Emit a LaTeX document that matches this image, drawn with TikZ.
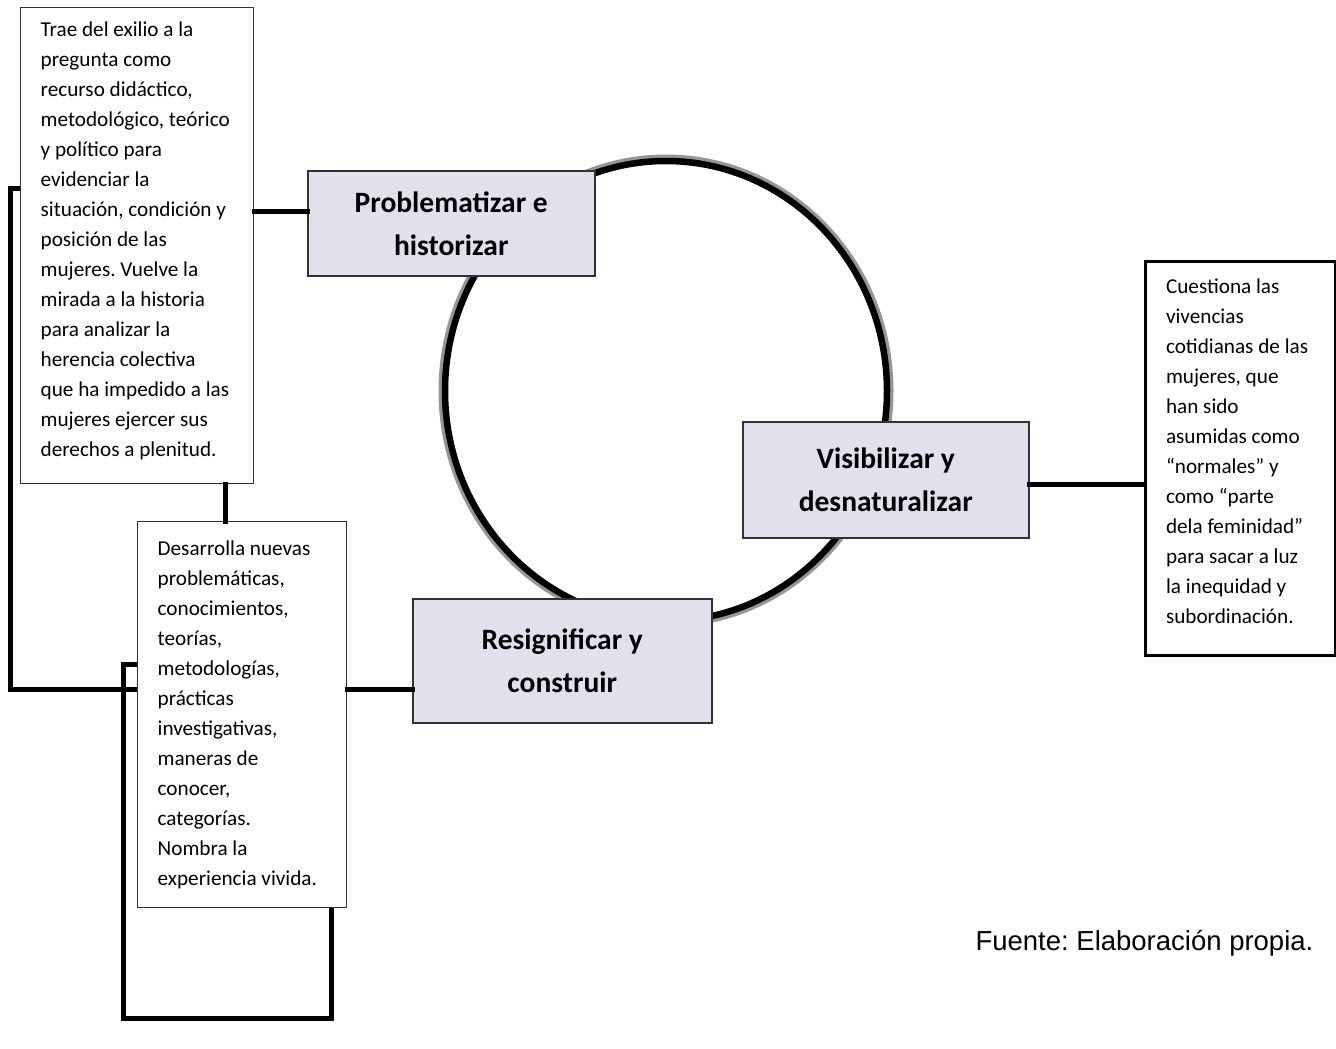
\documentclass[tikz,border=0pt]{standalone}
\usepackage{fontspec}
\setmainfont{Carlito}
\newfontfamily\fuentefont{Liberation Sans}
\usepackage{tikz}
\usetikzlibrary{positioning}
\definecolor{StageLila}{RGB}{228,223,236}
\definecolor{RingGray}{RGB}{150,150,150}
\definecolor{EdgeGray}{RGB}{50,50,50}
\tikzset{
  stage/.style={draw=EdgeGray, line width=1.5, fill=StageLila, anchor=north west,
    inner sep=0pt, align=center, font=\fontsize{29.5}{43}\selectfont\bfseries},
  note/.style={draw=EdgeGray, line width=1.3, fill=white, anchor=north west,
    inner xsep=20pt, inner ysep=0pt, font=\fontsize{21.2}{30}\selectfont},
  link/.style={line width=5, line cap=rect},
}
\frenchspacing

\begin{document}
\begin{tikzpicture}[x=1pt, y=-1pt]
        \useasboundingbox (0,0) rectangle (1336,1049);
        % Ring behind the three stages
        \draw[RingGray, line width=4] (666,391) ellipse [x radius=225.5, y radius=234.5];
        \draw[black, line width=6.5] (666,391) ellipse [x radius=221, y radius=230];
        % Text boxes
        \node[note] (trae) at (20,7) {\parbox[t][476pt][t]{193pt}{\vspace*{8pt}\strut
              Trae del exilio a la\\pregunta como\\recurso didáctico,\\metodológico, teórico\\
              y político para\\evidenciar la\\situación, condición y\\posición de las\\
              mujeres. Vuelve la\\mirada a la historia\\para analizar la\\herencia colectiva\\
              que ha impedido a las\\mujeres ejercer sus\\derechos a plenitud.}};
        \node[note] (desa) at (137,521) {\parbox[t][386pt][t]{169pt}{\vspace*{13pt}\strut
              Desarrolla nuevas\\problemáticas,\\conocimientos,\\teorías,\\metodologías,\\
              prácticas\\investigativas,\\maneras de\\conocer,\\categorías.\\Nombra la\\
              experiencia vivida.}};
        \node[note, draw=black, line width=3, inner xsep=21pt] (cues) at (1143.5,260)
              {\parbox[t][394pt][t]{148pt}{\vspace*{11pt}\strut
              Cuestiona las\\vivencias\\cotidianas de las\\mujeres, que\\han sido\\
              asumidas como\\“normales” y\\como “parte\\dela feminidad”\\para sacar a luz\\
              la inequidad y\\subordinación.}};
        % Stages
        \node[stage, minimum width=287, minimum height=105] (prob) at (307,170)
              {Problematizar e\\historizar};
        \node[stage, minimum width=286, minimum height=116] (visi) at (742,421)
              {Visibilizar y\\desnaturalizar};
        \node[stage, minimum width=299, minimum height=124] (resi) at (412,598)
              {Resignificar y\\construir};
        % Connectors
        \draw[link] (trae.east |- 0,211) -- (prob.west |- 0,211);
        \draw[link] (visi.east |- 0,484) -- (cues.west |- 0,484);
        \draw[link] (desa.east |- 0,689) -- (resi.west |- 0,689);
        \draw[link] (trae.south -| 225,0) -- (desa.north -| 225,0);
        \draw[link, line cap=butt] (trae.west |- 0,188) -| (10,689) -- (desa.west |- 0,689);
        \draw[link, line cap=butt] (desa.west |- 0,664) -| (123,1018) -| (desa.south -| 331,0);
        % Source
        \node[font=\fuentefont\fontsize{27.5}{33}\selectfont, anchor=base west] (fuente)
              at (972,950) {Fuente: Elaboración propia.};
\end{tikzpicture}
\end{document}
